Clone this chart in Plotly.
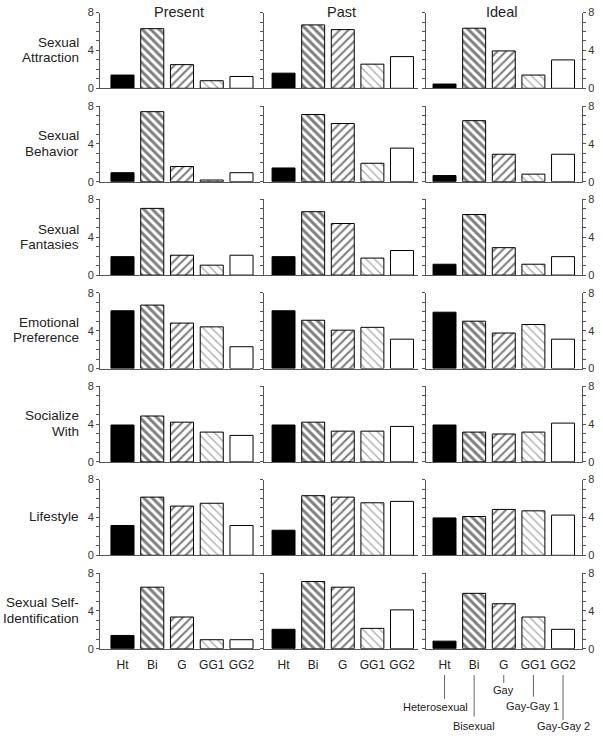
import plotly.graph_objects as go

# ---------------- data ----------------
categories = ["Ht", "Bi", "G", "GG1", "GG2"]
category_names = ["Heterosexual", "Bisexual", "Gay", "Gay-Gay 1", "Gay-Gay 2"]
time_frames = ["Present", "Past", "Ideal"]
dimension_labels = [
    ["Sexual", "Attraction"],
    ["Sexual", "Behavior"],
    ["Sexual", "Fantasies"],
    ["Emotional", "Preference"],
    ["Socialize", "With"],
    ["Lifestyle"],
    ["Sexual Self-", "Identification"],
]

# each list: [Present, Past, Ideal], values in order Ht, Bi, G, GG1, GG2
sexual_attraction = [[1.4, 6.3, 2.5, 0.8, 1.25], [1.6, 6.7, 6.2, 2.55, 3.35], [0.45, 6.35, 3.95, 1.4, 3.0]]
sexual_behavior = [[0.95, 7.4, 1.6, 0.18, 0.95], [1.45, 7.1, 6.15, 1.95, 3.55], [0.65, 6.45, 2.9, 0.8, 2.9]]
sexual_fantasies = [[1.95, 7.05, 2.1, 1.05, 2.1], [1.95, 6.7, 5.45, 1.8, 2.6], [1.15, 6.4, 2.9, 1.15, 1.95]]
emotional_preference = [[6.1, 6.7, 4.8, 4.4, 2.3], [6.1, 5.1, 4.05, 4.35, 3.1], [5.95, 5.0, 3.75, 4.65, 3.1]]
socialize_with = [[3.9, 4.85, 4.2, 3.15, 2.8], [3.9, 4.2, 3.25, 3.25, 3.75], [3.9, 3.15, 2.95, 3.15, 4.1]]
lifestyle = [[3.15, 6.15, 5.2, 5.5, 3.15], [2.65, 6.3, 6.15, 5.55, 5.7], [3.95, 4.1, 4.85, 4.7, 4.25]]
self_identification = [[1.4, 6.5, 3.35, 0.95, 0.95], [2.05, 7.1, 6.5, 2.15, 4.1], [0.8, 5.85, 4.75, 3.35, 2.05]]

dimensions = [sexual_attraction, sexual_behavior, sexual_fantasies, emotional_preference,
              socialize_with, lifestyle, self_identification]

# ---------------- styling / layout ----------------
W, H = 603, 738
FONT = "Arial, Liberation Sans, Helvetica, sans-serif"
AX = "#555555"
TXT = "#222222"

col_px = [(100, 260), (264, 418), (426, 582)]
col_range = [(-0.756, 4.622), (-0.66, 4.54), (-0.625, 4.64)]
row_bottom0, row_step, row_h = 88.3, 93.4, 75.7

bar_styles = [
    dict(color="black", pattern=dict(shape="")),
    dict(color="white", pattern=dict(shape="\\", fgcolor="black", bgcolor="white",
                                     size=6, solidity=0.5)),
    dict(color="white", pattern=dict(shape="/", fgcolor="black", bgcolor="white",
                                     size=6, solidity=0.36)),
    dict(color="white", pattern=dict(shape="\\", fgcolor="#555555", bgcolor="white",
                                     size=6, solidity=0.22)),
    dict(color="white", pattern=dict(shape="")),
]

fig = go.Figure()
layout = dict(
    width=W, height=H, margin=dict(l=0, r=0, t=0, b=0, autoexpand=False),
    paper_bgcolor="white", plot_bgcolor="white", showlegend=False,
    font=dict(family=FONT, color=TXT), barmode="overlay",
)
annotations = []
shapes = []

for r, dim in enumerate(dimensions):
    bottom = row_bottom0 + row_step * r
    top = bottom - row_h
    ydom = [1 - bottom / H, 1 - top / H]
    for c in range(3):
        idx = r * 3 + c + 1
        sfx = "" if idx == 1 else str(idx)
        for k, cat in enumerate(categories):
            st = bar_styles[k]
            fig.add_trace(go.Bar(
                x=[k], y=[dim[c][k]], name=cat,
                xaxis="x" + sfx, yaxis="y" + sfx, width=0.775,
                marker=dict(color=st["color"], line=dict(color="black", width=1),
                            pattern=st["pattern"]),
                hoverinfo="skip",
            ))
        x0, x1 = col_px[c]
        layout["xaxis" + sfx] = dict(
            domain=[x0 / W, x1 / W], range=list(col_range[c]), anchor="y" + sfx,
            showline=True, linecolor=AX, linewidth=1, showgrid=False, zeroline=False,
            tickvals=list(range(len(categories))), ticktext=categories,
            showticklabels=(r == len(dimensions) - 1),
            ticks="outside", ticklen=5, tickcolor="rgba(0,0,0,0)",
            tickfont=dict(size=12, color=TXT), fixedrange=True, automargin=False,
        )
        layout["yaxis" + sfx] = dict(
            domain=ydom, range=[0, 8], anchor="x" + sfx,
            showline=True, linecolor=AX, linewidth=1, showgrid=False, zeroline=False,
            tickvals=[0, 4, 8], ticks="outside", ticklen=3, tickcolor=AX,
            showticklabels=(c != 1), side="right" if c == 2 else "left",
            mirror="ticks" if c == 2 else False,
            minor=dict(dtick=1, ticks="outside", ticklen=3, tickcolor=AX),
            tickfont=dict(size=11, color="#333333"), fixedrange=True, automargin=False,
        )
    # row label
    lines = dimension_labels[r]
    center = (top + bottom) / 2 - 0.5
    offsets = [0] if len(lines) == 1 else [-7.75, 7.75]
    for line, off in zip(lines, offsets):
        annotations.append(dict(
            text=line, xref="paper", yref="paper", x=81 / W, y=1 - (center + off) / H,
            xanchor="right", yanchor="middle", showarrow=False,
            font=dict(size=13.5, color=TXT, family=FONT),
        ))

# column headers
for c, name in enumerate(time_frames):
    cx = [178.5, 341.7, 501.7][c]
    annotations.append(dict(
        text=name, xref="paper", yref="paper", x=cx / W, y=1 - 12 / H,
        xanchor="center", yanchor="middle", showarrow=False,
        font=dict(size=14.5, color=TXT, family=FONT),
    ))

# category legend under the Ideal column
last = len(dimensions) * 3
line_top = 675
line_end = [699, 716.7, 683, 696.7, 720]
label_y = [706.7, 725.7, 690, 705.7, 725.7]
label_shift = [-9, 0, 0, -1, 0]
for i, nm in enumerate(category_names):
    shapes.append(dict(
        type="line", xref="x" + str(last), yref="paper",
        x0=i, x1=i, y0=1 - line_top / H, y1=1 - line_end[i] / H,
        line=dict(color="#666666", width=1),
    ))
    annotations.append(dict(
        text=nm, xref="x" + str(last), yref="paper", x=i, xshift=label_shift[i],
        y=1 - label_y[i] / H, xanchor="center", yanchor="middle", showarrow=False,
        font=dict(size=11, color=TXT, family=FONT),
    ))

layout["annotations"] = annotations
layout["shapes"] = shapes
fig.update_layout(**layout)
fig.write_html(
    "out.html",
    config={"displayModeBar": False, "staticPlot": True},
    post_script="document.body.style.margin='0';document.body.style.overflow='hidden';",
)
